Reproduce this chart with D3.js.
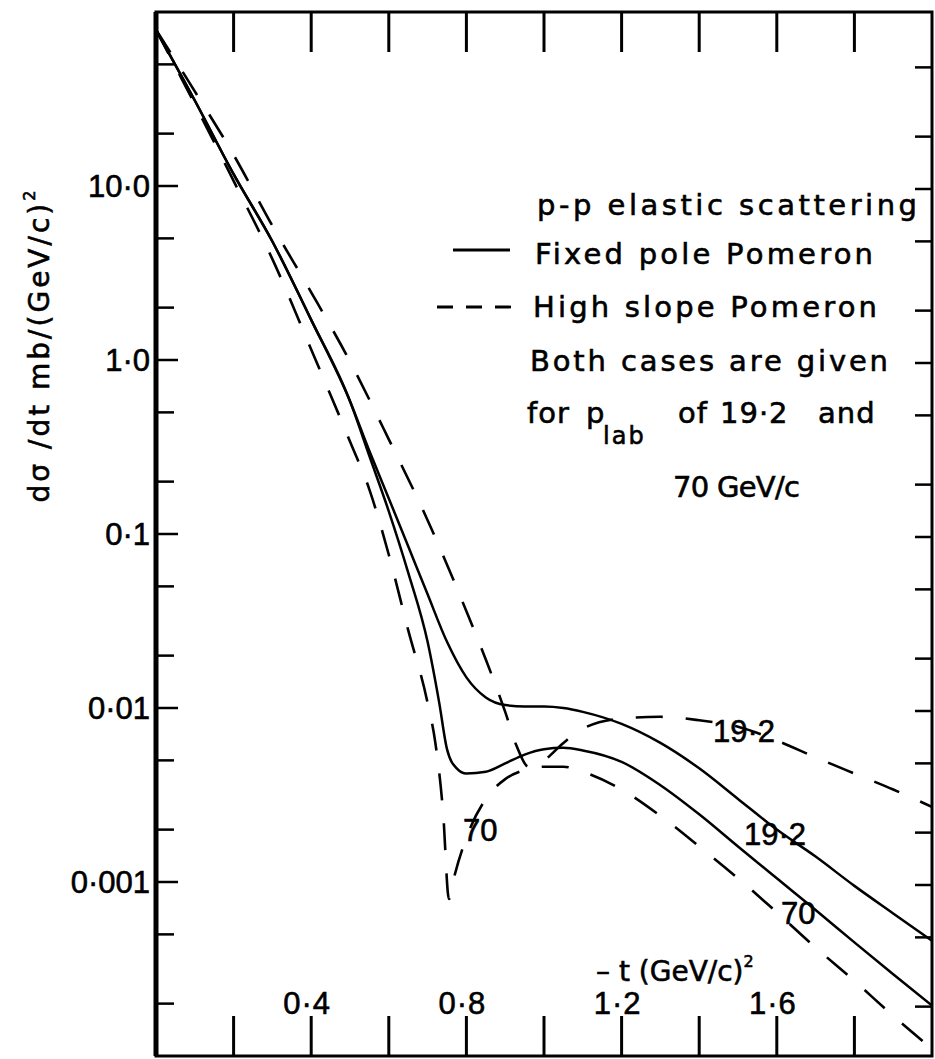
<!doctype html>
<html lang="en">
<head>
<meta charset="utf-8">
<title>p-p elastic scattering</title>
<style>
  body { margin: 0; background: #fff; }
  svg text { font-family: "DejaVu Sans", sans-serif; fill: #000; stroke: #000; stroke-width: 0.6px; }
  svg text.num { font-family: "Liberation Sans", Arial, sans-serif; }
</style>
</head>
<body>
<div id="chart"></div>
<script src="https://d3js.org/d3.v7.min.js"></script>
<script>
const width = 935;
const height = 1059;

// curves: [-t (GeV/c)^2, dsigma/dt mb/(GeV/c)^2]
const fixedPole192 = [
  [0, 79], [0.1, 31], [0.2, 11.7], [0.3, 4.8], [0.4, 1.7], [0.5, 0.58], [0.55, 0.30],
  [0.6, 0.16], [0.65, 0.085], [0.7, 0.045], [0.75, 0.024], [0.8, 0.015], [0.85, 0.0115],
  [0.9, 0.0104], [0.95, 0.0102], [1.0, 0.0102], [1.05, 0.0100], [1.1, 0.0095],
  [1.2, 0.0081], [1.3, 0.0063], [1.4, 0.0045], [1.5, 0.0030], [1.6, 0.0020],
  [1.7, 0.0014], [1.8, 0.00095], [1.9, 0.00066], [2.0, 0.00046]
];
const fixedPole70 = [
  [0, 79], [0.1, 31], [0.2, 11.7], [0.3, 4.8], [0.4, 1.7], [0.5, 0.58], [0.55, 0.28],
  [0.6, 0.135], [0.65, 0.06], [0.7, 0.024], [0.73, 0.0107], [0.75, 0.0058], [0.775, 0.0045],
  [0.8, 0.0042], [0.85, 0.0043], [0.9, 0.0048], [0.95, 0.0054], [1.0, 0.0058],
  [1.05, 0.0059], [1.1, 0.0057], [1.2, 0.0049], [1.3, 0.0036], [1.4, 0.00245],
  [1.5, 0.0016], [1.6, 0.00105], [1.7, 0.00069], [1.8, 0.00045], [1.9, 0.000295],
  [2.0, 0.000195]
];
const highSlope192 = [
  [0, 79], [0.1, 35], [0.2, 15.1], [0.3, 5.9], [0.4, 2.45], [0.5, 0.98], [0.6, 0.35],
  [0.7, 0.12], [0.8, 0.036], [0.85, 0.019], [0.9, 0.0095], [0.93, 0.006], [0.96, 0.0046],
  [1.0, 0.005], [1.05, 0.0063], [1.1, 0.0076], [1.2, 0.0087], [1.3, 0.0089],
  [1.4, 0.0085], [1.5, 0.0078], [1.6, 0.0065], [1.7, 0.0052], [1.8, 0.0042],
  [1.9, 0.0034], [2.0, 0.0027]
];
const highSlope70 = [
  [0, 79], [0.1, 29.5], [0.2, 10.7], [0.3, 3.8], [0.4, 1.15], [0.5, 0.34], [0.55, 0.18],
  [0.6, 0.076], [0.65, 0.028], [0.7, 0.0107], [0.72, 0.0063], [0.74, 0.0025],
  [0.755, 0.0008], [0.77, 0.0011], [0.8, 0.0018], [0.85, 0.003], [0.9, 0.0039],
  [0.95, 0.0044], [1.0, 0.0046], [1.05, 0.0046], [1.1, 0.0043], [1.2, 0.0034],
  [1.3, 0.0024], [1.4, 0.0016], [1.5, 0.00105], [1.6, 0.00067], [1.7, 0.00042],
  [1.8, 0.00027], [1.9, 0.00017], [2.0, 0.00011]
];

const xTicks = [0.2, 0.4, 0.6, 0.8, 1.0, 1.2, 1.4, 1.6, 1.8];
const xTickLabels = [[0.4, "0·4"], [0.8, "0·8"], [1.2, "1·2"], [1.6, "1·6"]];
const yMajor = [0.001, 0.01, 0.1, 1, 10];
const yMajorLabels = ["0·001", "0·01", "0·1", "1·0", "10·0"];
const yMinor = [0.0002, 0.0005, 0.002, 0.005, 0.02, 0.05, 0.2, 0.5, 2, 5, 20, 50];

const plotLeft = 156, plotRight = 932, plotTop = 12, plotBottom = 1056;

const svg = d3.select("#chart").append("svg")
  .attr("width", width)
  .attr("height", height)
  .attr("viewBox", "0 0 " + width + " " + height);

const x = d3.scaleLinear().domain([0, 2.0]).range([plotLeft, plotRight]);
const y = d3.scaleLog().domain([0.0001, 100]).range([plotBottom, plotTop]);

const line = d3.line()
  .x(d => x(d[0]))
  .y(d => y(d[1]))
  .curve(d3.curveMonotoneX);

svg.append("defs").append("clipPath").attr("id", "plot")
  .append("rect").attr("x", plotLeft).attr("y", plotTop)
  .attr("width", plotRight - plotLeft).attr("height", plotBottom - plotTop);

const curves = svg.append("g").attr("clip-path", "url(#plot)");

[fixedPole192, fixedPole70].forEach(function (s) {
  curves.append("path").datum(s)
    .attr("d", line)
    .attr("fill", "none")
    .attr("stroke", "#000")
    .attr("stroke-width", 2.5);
});
[highSlope192, highSlope70].forEach(function (s) {
  curves.append("path").datum(s)
    .attr("d", line)
    .attr("fill", "none")
    .attr("stroke", "#000")
    .attr("stroke-width", 2.6)
    .attr("stroke-dasharray", "27,23");
});

// frame
svg.append("rect")
  .attr("x", plotLeft).attr("y", plotTop)
  .attr("width", plotRight - plotLeft).attr("height", plotBottom - plotTop)
  .attr("fill", "none").attr("stroke", "#000").attr("stroke-width", 3);
svg.append("line")
  .attr("x1", plotLeft).attr("x2", plotLeft).attr("y1", plotTop).attr("y2", plotBottom)
  .attr("stroke", "#000").attr("stroke-width", 5);

// x ticks, top and bottom
svg.selectAll("line.xt-top").data(xTicks).enter().append("line")
  .attr("x1", d => x(d)).attr("x2", d => x(d))
  .attr("y1", plotTop).attr("y2", plotTop + 40)
  .attr("stroke", "#000").attr("stroke-width", 3);
svg.selectAll("line.xt-bot").data(xTicks).enter().append("line")
  .attr("x1", d => x(d)).attr("x2", d => x(d))
  .attr("y1", plotBottom).attr("y2", plotBottom - 40)
  .attr("stroke", "#000").attr("stroke-width", 3);

// y ticks, left and right
svg.selectAll("line.yt-maj").data(yMajor).enter().append("line")
  .attr("x1", plotLeft).attr("x2", plotLeft + 22)
  .attr("y1", d => y(d)).attr("y2", d => y(d))
  .attr("stroke", "#000").attr("stroke-width", 2.5);
svg.selectAll("line.yt-min").data(yMinor).enter().append("line")
  .attr("x1", plotLeft).attr("x2", plotLeft + 18)
  .attr("y1", d => y(d)).attr("y2", d => y(d))
  .attr("stroke", "#000").attr("stroke-width", 2.5);
svg.selectAll("line.yt-right").data(yMajor.concat(yMinor)).enter().append("line")
  .attr("x1", plotRight).attr("x2", plotRight - 17)
  .attr("y1", d => y(d) + 3).attr("y2", d => y(d) + 3)
  .attr("stroke", "#000").attr("stroke-width", 2.5);

// tick labels
svg.selectAll("text.ylab").data(yMajor).enter().append("text")
  .attr("class", "num")
  .attr("x", 150).attr("y", d => y(d))
  .attr("text-anchor", "end")
  .attr("dominant-baseline", "central")
  .style("font-size", "31px")
  .text((d, i) => yMajorLabels[i]);

svg.selectAll("text.xlab").data(xTickLabels).enter().append("text")
  .attr("class", "num")
  .attr("x", d => x(d[0]) - 4).attr("y", 1014)
  .attr("text-anchor", "middle")
  .style("font-size", "31px")
  .style("letter-spacing", "1px")
  .text(d => d[1]);

// axis titles
const yTitle = svg.append("text")
  .attr("transform", "translate(49,345) rotate(-90)")
  .attr("text-anchor", "middle")
  .style("font-size", "28px")
  .style("letter-spacing", "3px");
yTitle.append("tspan").text("dσ /dt  mb/(GeV/c)");
yTitle.append("tspan").attr("dy", -14).style("font-size", "16px").text("2");

const xTitle = svg.append("text")
  .attr("x", 596).attr("y", 981)
  .style("font-size", "28px");
xTitle.append("tspan").text("– t (GeV/c)");
xTitle.append("tspan").attr("dy", -14).style("font-size", "16px").text("2");

// legend
const legend = svg.append("g").style("font-size", "29px");
legend.append("text").attr("x", 537).attr("y", 215)
  .attr("textLength", 380).attr("lengthAdjust", "spacing")
  .text("p-p elastic scattering");
legend.append("line").attr("x1", 453).attr("x2", 510).attr("y1", 250).attr("y2", 250)
  .attr("stroke", "#000").attr("stroke-width", 2.8);
legend.append("text").attr("x", 535).attr("y", 264)
  .attr("textLength", 338).attr("lengthAdjust", "spacing")
  .text("Fixed pole Pomeron");
legend.append("line").attr("x1", 437).attr("x2", 520).attr("y1", 307).attr("y2", 307)
  .attr("stroke", "#000").attr("stroke-width", 2.8)
  .attr("stroke-dasharray", "16,13");
legend.append("text").attr("x", 533).attr("y", 317)
  .attr("textLength", 344).attr("lengthAdjust", "spacing")
  .text("High slope Pomeron");
legend.append("text").attr("x", 530).attr("y", 371)
  .attr("textLength", 358).attr("lengthAdjust", "spacing")
  .text("Both cases are given");
legend.append("text").attr("x", 527).attr("y", 423).style("letter-spacing", "1px").text("for");
legend.append("text").attr("x", 586).attr("y", 423).text("p");
legend.append("text").attr("x", 603).attr("y", 444).style("font-size", "24px").style("letter-spacing", "2px").text("lab");
legend.append("text").attr("x", 678).attr("y", 423).style("letter-spacing", "1px").text("of");
legend.append("text").attr("x", 720).attr("y", 423).style("letter-spacing", "1px").text("19·2");
legend.append("text").attr("x", 818).attr("y", 423).style("letter-spacing", "1px").text("and");
legend.append("text").attr("x", 673).attr("y", 497)
  .attr("textLength", 127).attr("lengthAdjust", "spacing")
  .text("70 GeV/c");

// curve annotations
const notes = svg.append("g").style("font-size", "31px");
notes.append("text").attr("class", "num").attr("x", 713).attr("y", 742).text("19·2");
notes.append("text").attr("class", "num").attr("x", 744).attr("y", 845).text("19·2");
notes.append("text").attr("class", "num").attr("x", 463).attr("y", 841).text("70");
notes.append("text").attr("class", "num").attr("x", 781).attr("y", 924).text("70");
</script>
</body>
</html>
